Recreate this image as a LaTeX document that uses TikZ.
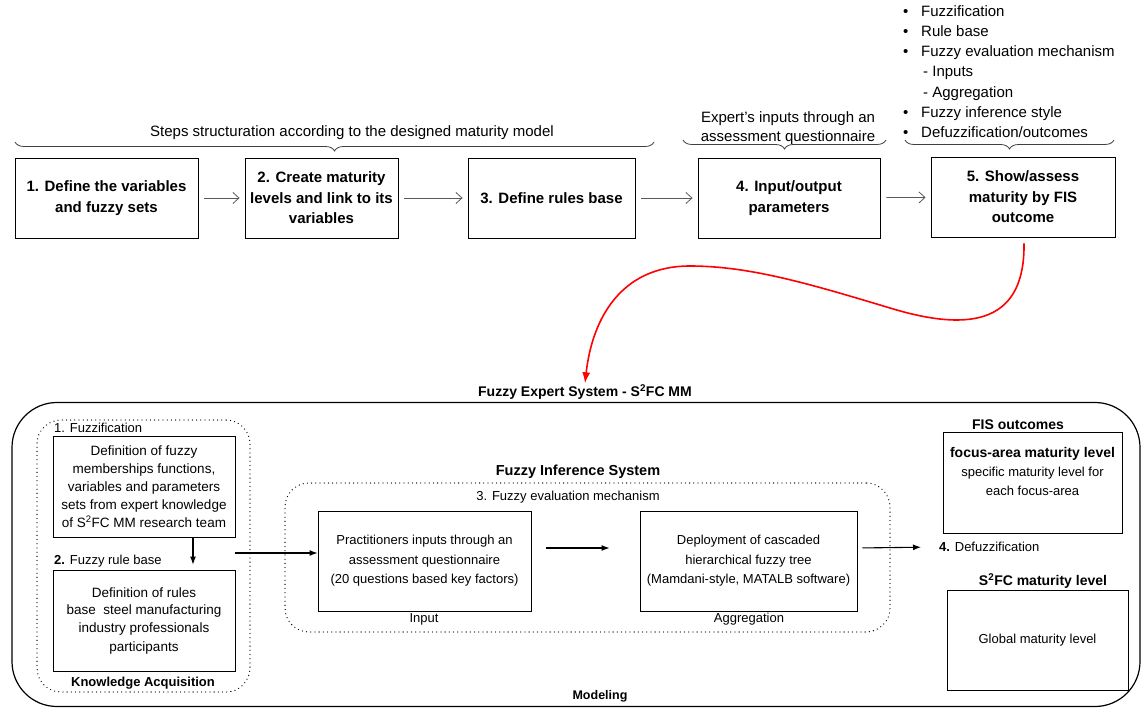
\documentclass[tikz,border=0pt]{standalone}
\usepackage{fontspec}
\setmainfont{Liberation Sans}
\usetikzlibrary{arrows.meta,decorations.pathreplacing}
\tikzset{
 stepbox/.style={draw=black, line width=0.9pt, align=center, inner sep=2pt, font=\bfseries\fontsize{15}{20.5}\selectfont},
 inbox/.style={draw=black, line width=0.9pt, align=center, inner sep=2pt, font=\fontsize{13.5}{18}\selectfont},
 dotbox/.style={draw=black, line width=1.3pt, dash pattern=on 0pt off 4.2pt, line cap=round, rounded corners=24pt},
 tarr/.style={draw=black!65, line width=0.8pt, -{Straight Barb[length=6pt,width=11pt]}, shorten <=6pt, shorten >=5pt},
 barr/.style={draw=black, line width=1.1pt, -{Latex[length=8pt,width=6pt]}},
 brc/.style={draw=black!75, line width=0.8pt, decorate, decoration={brace, mirror, amplitude=9pt}},
 lbl/.style={font=\fontsize{13}{16}\selectfont, inner sep=1pt},
 hdr/.style={font=\bfseries\fontsize{14}{17}\selectfont, inner sep=1pt},
 toptxt/.style={font=\fontsize{15}{19}\selectfont, align=center, inner sep=0pt},
}
\begin{document}
\begin{tikzpicture}[x=1pt,y=-1pt]
\useasboundingbox[fill=white] (0,0) rectangle (1142,709);

% ---------- top row ----------
\node[stepbox, minimum width=183pt, minimum height=80pt] (b1) at (106.5,198) {1. Define the variables\\and fuzzy sets};
\node[stepbox, minimum width=153pt, minimum height=80pt] (b2) at (321.5,198) {2. Create maturity\\levels and link to its\\variables};
\node[stepbox, minimum width=167pt, minimum height=80pt] (b3) at (551.5,198) {3. Define rules base};
\node[stepbox, minimum width=182pt, minimum height=80pt] (b4) at (789,198) {4. Input/output\\parameters};
\node[stepbox, minimum width=184pt, minimum height=80pt] (b5) at (1023,197) {5. Show/assess\\maturity by FIS\\outcome};

\draw[tarr] (b1) -- (b2);
\draw[tarr] (b2) -- (b3);
\draw[tarr] (b3) -- (b4);
\draw[tarr] (b4) -- (b5);

% braces and their texts
\draw[brc] (15,142) -- (654,142);
\node[toptxt] (steps) at (352,133) {Steps structuration according to the designed maturity model};
\draw[brc] (683,140) -- (886,140);
\node[toptxt] (expert) at (788,128) {Expert's inputs through an\\assessment questionnaire};
\draw[brc] (905,140) -- (1114,140);
\node[anchor=north west, align=left, inner sep=0pt, font=\fontsize{15}{20.3}\selectfont] (bl) at (903,5) {%
\makebox[18pt][l]{\textbullet}Fuzzification\\
\makebox[18pt][l]{\textbullet}Rule base\\
\makebox[18pt][l]{\textbullet}Fuzzy evaluation mechanism\\
\hspace*{20pt}- Inputs\\
\hspace*{20pt}- Aggregation\\
\makebox[18pt][l]{\textbullet}Fuzzy inference style\\
\makebox[18pt][l]{\textbullet}Defuzzification/outcomes};

% ---------- red connector ----------
\node[hdr] (fes) at (585,392) {Fuzzy Expert System - S\textsuperscript{2}FC MM};
\coordinate (rs) at ([shift={(1,6)}]b5.south);
\draw[red, line width=1.6pt, -{Latex[length=11pt,width=8pt]}]
  (rs) .. controls (1025,320) and (975,334) .. (890,308)
       .. controls (810,284) and (750,266) .. (690,266)
       .. controls (620,266) and (592,320) .. (fes.north);

% ---------- bottom frame ----------
\node[draw=black, line width=1.2pt, rounded corners=45pt, minimum width=1128pt, minimum height=304pt] (frame) at (576,554.5) {};
\node[font=\bfseries\fontsize{12.5}{15}\selectfont, inner sep=1pt] (modl) at (600,696) {Modeling};

% knowledge acquisition
\node[dotbox, minimum width=213pt, minimum height=272pt] (ka) at (143.5,556) {};
\node[hdr, font=\bfseries\fontsize{13}{16}\selectfont] (kal) at (143,683) {Knowledge Acquisition};
\node[lbl, anchor=west] (fz) at (53,428) {1. Fuzzification};
\node[inbox, minimum width=182pt, minimum height=101pt] (A) at (144,486.5) {Definition of fuzzy\\memberships functions,\\variables and parameters\\sets from expert knowledge\\of S\textsuperscript{2}FC MM research team};
\node[lbl, anchor=west] (frb) at (53,561) {\textbf{2.} Fuzzy rule base};
\node[inbox, minimum width=182pt, minimum height=101pt] (B) at (144,620.5) {Definition of rules\\base\ \ steel manufacturing\\industry professionals\\participants};
\draw[barr] ([xshift=49pt]A.south) -- ([xshift=49pt,yshift=5pt]B.north);

% fuzzy inference system
\node[dotbox, minimum width=605pt, minimum height=149pt] (fis) at (587.5,557.5) {};
\node[hdr, font=\bfseries\fontsize{14.5}{17}\selectfont] (fisl) at (578,472) {Fuzzy Inference System};
\node[lbl] (fem) at (568,497) {3. Fuzzy evaluation mechanism};
\node[inbox, font=\fontsize{13}{19.5}\selectfont, minimum width=213pt, minimum height=100pt] (C) at (424.5,561) {Practitioners inputs through an\\assessment questionnaire\\(20 questions based key factors)};
\node[inbox, font=\fontsize{13}{19.5}\selectfont, minimum width=217pt, minimum height=100pt] (D) at (748.5,561) {Deployment of cascaded\\hierarchical fuzzy tree\\(Mamdani-style, MATALB software)};
\node[lbl] (inl) at (424,619) {Input};
\node[lbl] (agl) at (749,619) {Aggregation};
\coordinate (cin) at ([yshift=8pt]C.west);
\draw[barr] (cin -| A.east) -- (cin);
\draw[barr, shorten <=15pt, shorten >=30pt] ([yshift=13pt]C.east) -- ([yshift=13pt]D.west);

% outcomes
\node[lbl, anchor=west] (dfz) at (938,547) {\textbf{4.} Defuzzification};
\draw[barr, shorten <=5pt, shorten >=17pt] ([yshift=13pt]D.east) -- (dfz.west);
\node[hdr] (fiso) at (1018,425) {FIS outcomes};
\node[draw=black, line width=0.9pt, minimum width=179pt, minimum height=101pt] (E) at (1032.5,482.5) {};
\node[anchor=north, align=center, inner sep=0pt, font=\fontsize{13}{19}\selectfont] (etx) at (1032.5,447) {{\bfseries\fontsize{14}{19}\selectfont focus-area maturity level}\\specific maturity level for\\each focus-area};
\node[hdr] (s2l) at (1043,581) {S\textsuperscript{2}FC maturity level};
\node[inbox, font=\fontsize{13}{16}\selectfont, minimum width=181pt, minimum height=100pt] (F) at (1037.5,640) {Global maturity level};
\end{tikzpicture}
\end{document}
